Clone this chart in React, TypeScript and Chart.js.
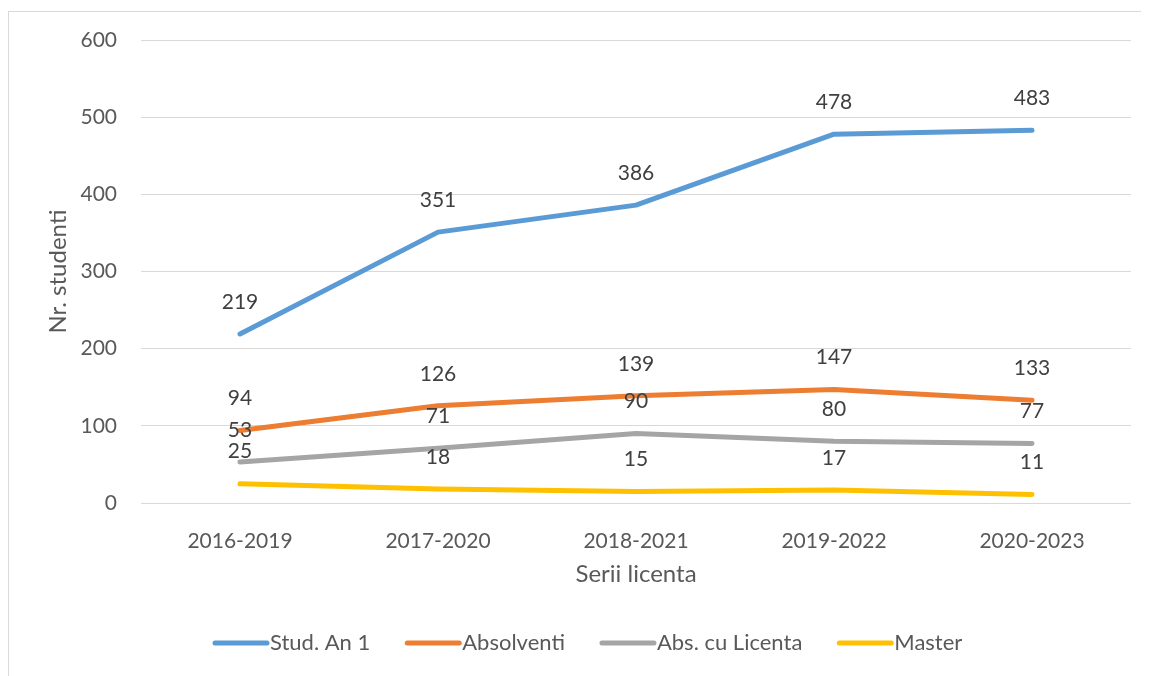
import React, { useEffect, useRef } from "react";
import { Chart, registerables } from "chart.js";

Chart.register(...registerables);

const categories = ["2016-2019", "2017-2020", "2018-2021", "2019-2022", "2020-2023"];
const studAn1 = [219, 351, 386, 478, 483];
const absolventi = [94, 126, 139, 147, 133];
const absCuLicenta = [53, 71, 90, 80, 77];
const master = [25, 18, 15, 17, 11];
const seriesNames = ["Stud. An 1", "Absolventi", "Abs. cu Licenta", "Master"];
const seriesColors = ["#5B9BD5", "#ED7D31", "#A5A5A5", "#FFC000"];
const yTicks = [0, 100, 200, 300, 400, 500, 600];

const FONT = "Lato, 'Open Sans', sans-serif";

const dataLabelsPlugin = {
  id: "dataLabelsCustom",
  afterDatasetsDraw(chart: any) {
    const ctx = chart.ctx;
    ctx.save();
    ctx.font = `21px ${FONT}`;
    ctx.fillStyle = "#404040";
    ctx.textAlign = "center";
    ctx.textBaseline = "middle";
    chart.data.datasets.forEach((ds: any, i: number) => {
      const meta = chart.getDatasetMeta(i);
      meta.data.forEach((pt: any, j: number) => {
        ctx.fillText(String(ds.data[j]), pt.x, pt.y - 32);
      });
    });
    ctx.restore();
  },
};

const legendPlugin = {
  id: "legendCustom",
  afterDraw(chart: any) {
    const ctx = chart.ctx;
    ctx.save();
    ctx.font = `22px ${FONT}`;
    ctx.textBaseline = "middle";
    ctx.textAlign = "left";
    const y = 631;
    let x = 204;
    const lineLen = 54;
    chart.data.datasets.forEach((ds: any) => {
      ctx.strokeStyle = ds.borderColor;
      ctx.lineWidth = 5;
      ctx.lineCap = "round";
      ctx.beginPath();
      ctx.moveTo(x + 2, y);
      ctx.lineTo(x + lineLen, y);
      ctx.stroke();
      ctx.fillStyle = "#595959";
      const tx = x + lineLen + 3;
      ctx.fillText(ds.label, tx, y);
      x = tx + ctx.measureText(ds.label).width + 35;
    });
    ctx.restore();
  },
};

export default function App() {
  const ref = useRef<HTMLCanvasElement>(null);
  useEffect(() => {
    if (!ref.current) return;
    const allData = [studAn1, absolventi, absCuLicenta, master];
    const chart = new Chart(ref.current, {
      type: "line",
      data: {
        labels: categories,
        datasets: allData.map((d, i) => ({
          label: seriesNames[i],
          data: d,
          borderColor: seriesColors[i],
          backgroundColor: seriesColors[i],
          borderWidth: 5,
          borderCapStyle: "round",
          borderJoinStyle: "round",
          pointRadius: 0,
          tension: 0,
          fill: false,
        })),
      },
      options: {
        responsive: false,
        animation: false,
        devicePixelRatio: 1,
        layout: { padding: { left: 0, right: 18, top: 28, bottom: 83 } },
        plugins: {
          legend: { display: false },
          tooltip: { enabled: false },
        },
        scales: {
          x: {
            offset: true,
            grid: { display: false },
            border: { display: false },
            ticks: { color: "#595959", font: { family: FONT, size: 21 }, padding: 18, maxRotation: 0 },
            title: {
              display: true,
              text: "Serii licenta",
              color: "#595959",
              font: { family: FONT, size: 24 },
              padding: { top: 4, bottom: 4 },
            },
            afterFit: (s: any) => {
              s.height = 90;
            },
          },
          y: {
            min: 0,
            max: 600,
            afterBuildTicks: (s: any) => {
              s.ticks = yTicks.map((v) => ({ value: v }));
            },
            grid: { color: "#D9D9D9", lineWidth: 1, drawTicks: false },
            border: { display: false },
            ticks: { color: "#595959", font: { family: FONT, size: 21 }, padding: 24 },
            title: {
              display: true,
              text: "Nr. studenti",
              color: "#595959",
              font: { family: FONT, size: 24 },
              padding: { top: 35, bottom: 0 },
            },
            afterFit: (s: any) => {
              s.width = 132;
              s.paddingTop = 0;
              s.paddingBottom = 0;
            },
          },
        },
      },
      plugins: [dataLabelsPlugin, legendPlugin],
    } as any);
    return () => chart.destroy();
  }, []);

  return (
    <div style={{ paddingTop: 3 }}>
      <div
        style={{
          borderTop: "1px solid #D9D9D9",
          borderLeft: "1px solid #D9D9D9",
          width: 1140,
          height: 664,
        }}
      >
        <canvas ref={ref} width={1140} height={664} style={{ display: "block" }} />
      </div>
    </div>
  );
}
